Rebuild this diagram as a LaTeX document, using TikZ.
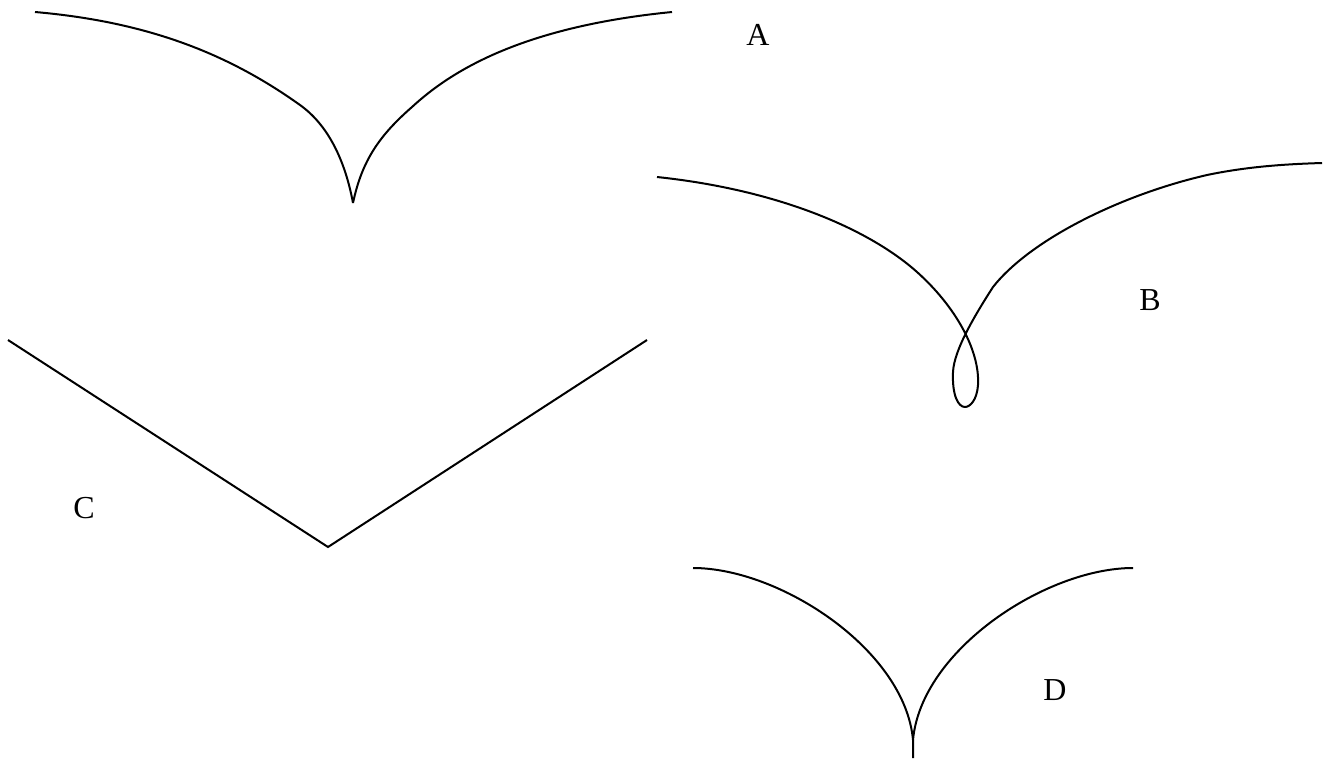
\documentclass[tikz,border=0pt]{standalone}
\usepackage{fontspec}
\setmainfont{Liberation Serif}
\usepackage{tikz}
\usetikzlibrary{calc}

\begin{document}
\begin{tikzpicture}[
    x=1pt, y=-1pt,
    curve/.style={line width=2pt, line join=round},
    caselabel/.style={font=\fontsize{32}{36}\selectfont, inner sep=0pt}
]

\useasboundingbox (0,0) rectangle (1329,761);

% -------------------------------------------------
% A: cusp
% -------------------------------------------------

\draw[curve]
  (35,12) .. controls (150,22) and (230,55) .. (300,105)
  .. controls (328,125) and (345,160) .. (353,203);
\draw[curve]
  (353,203) .. controls (362,160) and (380,135) .. (412,107)
  .. controls (450,72) and (520,27) .. (672,12);

\node[caselabel] (labA) at (758,35) {A};

% -------------------------------------------------
% B: loop
% -------------------------------------------------

\draw[curve]
  (657,177) .. controls (780,190) and (870,230) .. (917,272)
  .. controls (955,306) and (980,350) .. (978,385)
  .. controls (977,400) and (970,407) .. (965,407)
  .. controls (958,407) and (952,395) .. (953,372)
  .. controls (954,350) and (975,315) .. (993,287)
  .. controls (1030,240) and (1120,195) .. (1207,175)
  .. controls (1250,166) and (1290,164) .. (1322,163);

\node[caselabel] (labB) at (1150,300) {B};

% -------------------------------------------------
% C: corner
% -------------------------------------------------

\draw[curve, line join=miter] (8,340) -- (328,547) -- (647,340);

\node[caselabel] (labC) at (84,508) {C};

% -------------------------------------------------
% D: tangent cusp
% -------------------------------------------------

\draw[curve]
  (693,568) .. controls (780,568) and (905,650) .. (913,740)
  -- (913,758);
\draw[curve]
  (1133,568) .. controls (1046,568) and (921,650) .. (913,740);

\node[caselabel] (labD) at (1055,690) {D};

\end{tikzpicture}
\end{document}
